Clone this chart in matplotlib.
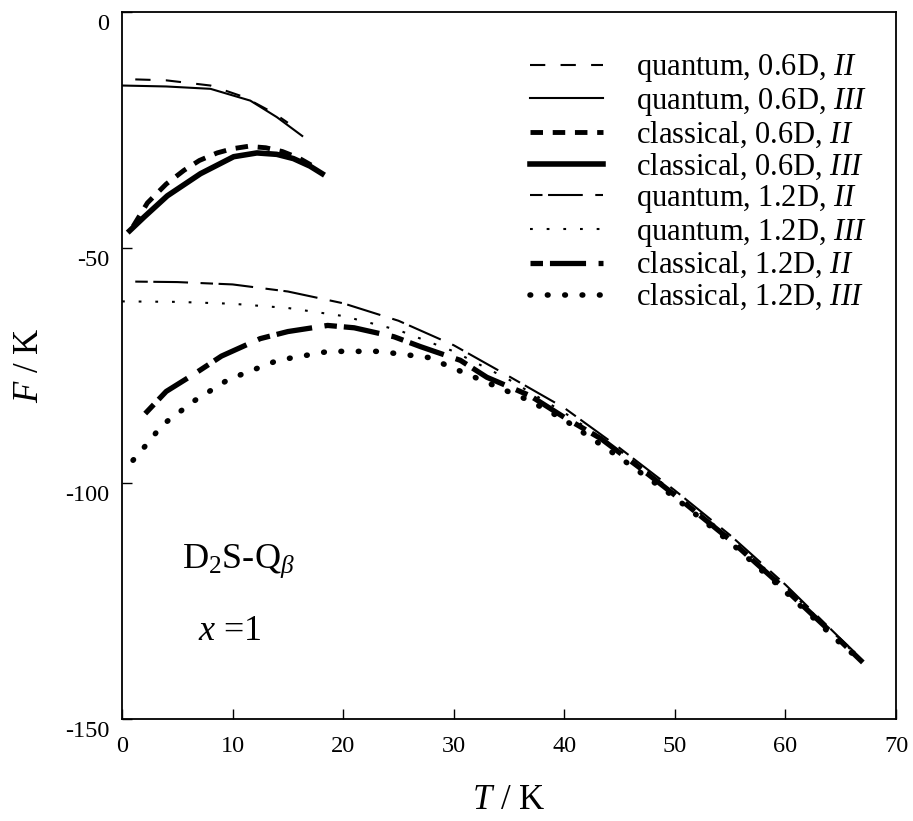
import matplotlib
matplotlib.use("Agg")
import matplotlib.pyplot as plt
import matplotlib.transforms as mtransforms
from matplotlib.ticker import FixedLocator, FuncFormatter

plt.rcParams['font.family'] = ['Liberation Serif', 'DejaVu Serif']
plt.rcParams['mathtext.fontset'] = 'custom'
plt.rcParams['mathtext.rm'] = 'Liberation Serif'
plt.rcParams['mathtext.it'] = 'Liberation Serif:italic'
plt.rcParams['mathtext.bf'] = 'Liberation Serif:bold'
plt.rcParams['axes.unicode_minus'] = False
plt.rcParams['lines.scale_dashes'] = False

# ---- data ----
T_q06_II = [1.2, 4, 8, 11, 13.7, 15]
F_q06_II = [-14.3, -14.5, -15.6, -18.0, -21.4, -23.5]

T_q06_III = [0, 4, 8, 11.6, 14, 16.3]
F_q06_III = [-15.6, -15.8, -16.3, -18.8, -22.3, -26.3]

T_c06_II = [1.0, 2.3, 4, 5.6, 7, 8.6, 10, 11.4, 13, 14.5, 16, 17.5]
F_c06_II = [-45.5, -40.5, -36.5, -33.6, -31.5, -29.9, -29.0, -28.5, -28.8, -29.6, -31.0, -33.0]

T_c06_III = [0.7, 2, 4.1, 7.1, 10.1, 12.2, 14, 15.5, 17, 18.1]
F_c06_III = [-46.4, -43.5, -39.0, -34.3, -30.7, -29.9, -30.2, -31.1, -32.7, -34.3]

T_q12_II = [1.2, 5, 10, 15, 20, 25, 30, 35, 40, 45, 50, 55, 60, 65, 67]
F_q12_II = [-57.2, -57.3, -57.8, -59.3, -61.8, -65.5, -70.7, -77.3, -84.0, -92.5,
            -101.5, -111.0, -121.5, -133.0, -137.5]

T_q12_III = [0, 5, 10, 15, 20, 25, 30, 35, 40, 45, 50, 55, 60, 65, 67]
F_q12_III = [-61.4, -61.5, -61.9, -62.8, -64.5, -67.5, -72.0, -78.0, -85.0, -93.0,
             -102.0, -111.5, -122.0, -133.2, -137.8]

T_c12_II = [2.1, 4, 6.6, 9, 12.5, 15, 18.6, 21, 24.6, 27, 30.6, 33, 36.9, 40, 43.3,
            47, 50, 55, 60, 65, 67]
F_c12_II = [-85.2, -80.5, -76.7, -73.0, -69.3, -67.8, -66.5, -67.0, -68.9, -71.0,
            -73.9, -77.5, -81.4, -86.0, -90.5, -97.0, -102.5, -112.0, -122.5, -133.5, -138.0]

T_c12_III = [1.0, 2.5, 3.6, 6.6, 9.6, 14.1, 18.7, 23.2, 27.7, 32.2, 36.8, 40, 45, 50,
             55, 60, 65, 67]
F_c12_III = [-95.1, -91.0, -87.7, -82.4, -78.0, -73.9, -72.0, -72.0, -73.3, -77.8,
             -82.4, -86.5, -94.5, -103.0, -112.5, -123.0, -134.0, -138.0]

labels = [
    r"quantum, 0.6D, $\mathit{II}$",
    r"quantum, 0.6D, $\mathit{III}$",
    r"classical, 0.6D, $\mathit{II}$",
    r"classical, 0.6D, $\mathit{III}$",
    r"quantum, 1.2D, $\mathit{II}$",
    r"quantum, 1.2D, $\mathit{III}$",
    r"classical, 1.2D, $\mathit{II}$",
    r"classical, 1.2D, $\mathit{III}$",
]

x_ticks = [0, 10, 20, 30, 40, 50, 60, 70]
y_ticks = [0, -50, -100, -150]

# ---- figure ----
fig = plt.figure(figsize=(9.13, 8.21), dpi=100)
ax = fig.add_axes([122 / 913, 1 - 719 / 821, 774 / 913, 707 / 821])

k = 'black'
ax.plot(T_q06_II, F_q06_II, color=k, lw=1.5, dashes=(11, 11), label=labels[0])
ax.plot(T_q06_III, F_q06_III, color=k, lw=1.5, label=labels[1])
ax.plot(T_c06_II, F_c06_II, color=k, lw=3.5, dashes=(9, 7), label=labels[2])
ax.plot(T_c06_III, F_c06_III, color=k, lw=4.0, label=labels[3])
ax.plot(T_q12_II, F_q12_II, color=k, lw=1.5, dashes=(9, 4, 25, 9), label=labels[4])
ax.plot(T_q12_III, F_q12_III, color=k, lw=1.5, dashes=(2, 10), label=labels[5])
ax.plot(T_c12_II, F_c12_II, color=k, lw=3.8, dashes=(9, 5, 26, 9), label=labels[6])
ax.plot(T_c12_III, F_c12_III, color=k, lw=4.0, dashes=(0.5, 12),
        dash_capstyle='round', label=labels[7])

ax.set_xlim(0, 70)
ax.set_ylim(-150, 0)
ax.xaxis.set_major_locator(FixedLocator(x_ticks))
ax.yaxis.set_major_locator(FixedLocator(y_ticks))
ax.xaxis.set_major_formatter(FuncFormatter(lambda v, p: f"{v:.0f}"))
ax.yaxis.set_major_formatter(FuncFormatter(lambda v, p: f"{v:.0f}"))
ax.tick_params(direction='in', length=7, width=1.0, labelsize=17.5, top=False, right=False)
ax.tick_params(axis='x', pad=12)
ax.tick_params(axis='y', pad=9)
for sp in ax.spines.values():
    sp.set_linewidth(1.3)

offset = mtransforms.ScaledTranslation(0, -0.10, fig.dpi_scale_trans)
for lab in ax.get_yticklabels():
    lab.set_transform(lab.get_transform() + offset)

ax.set_xlabel(r"$T$ / K", fontsize=25, labelpad=20)
ax.set_ylabel(r"$F$ / K", fontsize=25, labelpad=14)

ax.text(10.5, -116.5, r"D$_2$S-Q$_\beta$", fontsize=26, ha='center', va='center')
ax.text(9.8, -131.5, r"$x$ =1", fontsize=26, ha='center', va='center')

leg = ax.legend(loc='upper right', bbox_to_anchor=(0.9625, 0.943), frameon=False,
                fontsize=22, handlelength=2.4, handletextpad=1.08, labelspacing=0.05,
                borderpad=0, borderaxespad=0)

fig.savefig("out.png", dpi=100)
